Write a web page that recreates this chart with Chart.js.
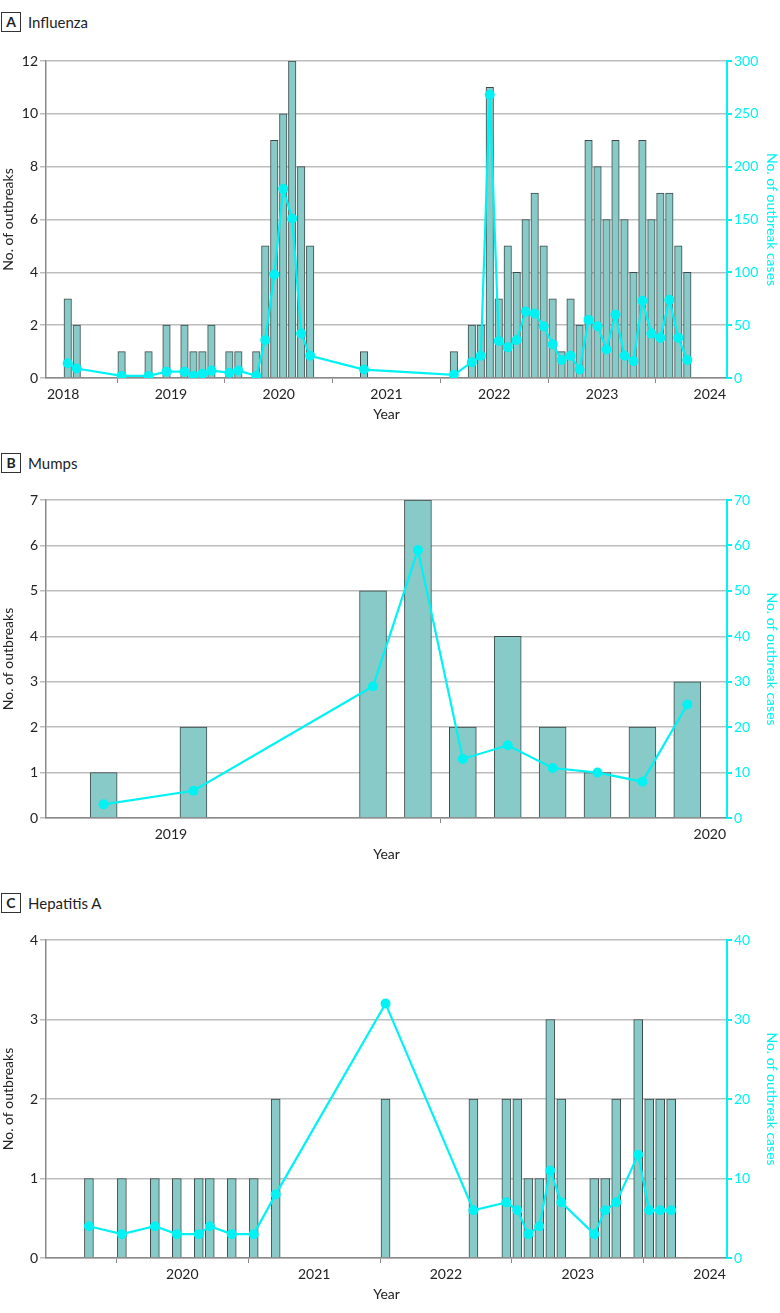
<!DOCTYPE html>
<html lang="en">
<head>
<meta charset="UTF-8">
<title>Outbreaks by month</title>
<script src="https://cdn.jsdelivr.net/npm/chart.js"></script>
<style>
  body {
    margin: 0;
    background: #fff;
    font-family: Lato, "Open Sans", sans-serif;
    color: #222;
  }
  .page {
    position: relative;
    width: 780px;
    height: 1313px;
  }
  .head {
    position: absolute;
    left: 1px;
    height: 20px;
    display: flex;
    align-items: center;
  }
  .tag {
    box-sizing: border-box;
    width: 20px;
    height: 20px;
    border: 1px solid #333;
    font-weight: bold;
    font-size: 14px;
    line-height: 18px;
    text-align: center;
  }
  .name {
    margin-left: 7px;
    font-size: 15px;
  }
  .box {
    position: absolute;
    left: 0;
    width: 780px;
  }
</style>
</head>
<body>
<div class="page">
  <div class="head" style="top:12px"><span class="tag">A</span><span class="name">Influenza</span></div>
  <div class="box" style="top:45px;height:381px"><canvas id="fluChart"></canvas></div>

  <div class="head" style="top:453px"><span class="tag">B</span><span class="name">Mumps</span></div>
  <div class="box" style="top:484px;height:382px"><canvas id="mumpsChart"></canvas></div>

  <div class="head" style="top:893px"><span class="tag">C</span><span class="name">Hepatitis A</span></div>
  <div class="box" style="top:924px;height:382px"><canvas id="hepChart"></canvas></div>
</div>

<script>
  // Influenza, per month
  var fluMonths = ['2018-01','2018-02','2018-07','2018-10','2018-12',
    '2019-02','2019-03','2019-04','2019-05','2019-07','2019-08','2019-10','2019-11','2019-12',
    '2020-01','2020-02','2020-03','2020-04','2020-10',
    '2021-08','2021-10','2021-11','2021-12',
    '2022-01','2022-02','2022-03','2022-04','2022-05','2022-06','2022-07','2022-08','2022-09','2022-10','2022-11','2022-12',
    '2023-01','2023-02','2023-03','2023-04','2023-05','2023-06','2023-07','2023-08','2023-09','2023-10'];
  var fluOutbreaks = [3,2,1,1,2, 2,1,1,2,1,1,1,5,9, 10,12,8,5,1, 1,2,2,11,
    3,5,4,6,7,5,3,1,3,2,9,8, 6,9,6,4,9,6,7,7,5,4];
  var fluCases = [14,9,2,2,6, 6,2,4,7,5,7,2,36,98, 179,151,42,21,8, 3,15,21,268,
    35,29,36,63,61,49,32,17,21,8,55,49, 27,60,21,16,73,42,38,74,38,17];

  // Mumps
  var mumpsMonths = ['2018-11','2019-01','2019-05','2019-06','2019-07','2019-08','2019-09','2019-10','2019-11','2019-12'];
  var mumpsOutbreaks = [1,2,5,7,2,4,2,1,2,3];
  var mumpsCases = [3,6,29,59,13,16,11,10,8,25];

  // Hepatitis A
  var hepMonths = ['2019-04','2019-07','2019-10','2019-12','2020-02','2020-03','2020-05','2020-07','2020-09',
    '2021-07','2022-03','2022-06','2022-07','2022-08','2022-09','2022-10','2022-11',
    '2023-02','2023-03','2023-04','2023-06','2023-07','2023-08','2023-09'];
  var hepOutbreaks = [1,1,1,1,1,1,1,1,2, 2,2,2,2,1,1,3,2, 1,1,2,3,2,2,2];
  var hepCases = [4,3,4,3,3,4,3,3,8, 32,6,7,6,3,4,11,7, 3,6,7,13,6,6,6];

  var CYAN = '#00f2f2';
  var GRID = '#bdbdbd';

  Chart.defaults.font.family = 'Lato, "Open Sans", sans-serif';
  Chart.defaults.font.size = 14;
  Chart.defaults.color = '#222';
  Chart.defaults.animation = false;

  // "2019-05" -> middle of that month as a decimal year
  function monthPos(s) {
    var p = s.split('-');
    return Number(p[0]) + (Number(p[1]) - 0.5) / 12;
  }

  function pairs(months, values) {
    return months.map(function (m, i) { return { x: monthPos(m), y: values[i] }; });
  }

  function makeChart(id, months, outbreaks, cases, opt) {
    var ctx = document.getElementById(id).getContext('2d');
    return new Chart(ctx, {
      type: 'bar',
      data: {
        datasets: [{
          type: 'line',
          order: 0,
          yAxisID: 'y2',
          data: pairs(months, cases),
          borderColor: CYAN,
          backgroundColor: CYAN,
          borderWidth: 2.2,
          pointRadius: 5,
          pointBorderWidth: 0,
          pointBackgroundColor: CYAN,
          tension: 0
        }, {
          type: 'bar',
          order: 1,
          yAxisID: 'y',
          data: pairs(months, outbreaks),
          backgroundColor: '#87cac7',
          borderColor: '#3e4a4a',
          borderWidth: 1,
          barThickness: opt.barW
        }]
      },
      options: {
        responsive: true,
        maintainAspectRatio: false,
        layout: { padding: { top: 16, left: 0, right: 0, bottom: 0 } },
        plugins: { legend: { display: false }, tooltip: { enabled: false } },
        scales: {
          x: {
            type: 'linear',
            offset: false,
            min: opt.xMin,
            max: opt.xMax,
            afterFit: function (s) { s.height = 48; },
            afterBuildTicks: function (s) {
              s.ticks = s.ticks.filter(function (t) { return t.value >= opt.firstYear; });
            },
            border: { color: '#8a8a8a', width: 1.5 },
            grid: { drawOnChartArea: false, drawTicks: true, tickLength: 5, color: '#8a8a8a' },
            ticks: {
              stepSize: 1,
              includeBounds: false,
              padding: 3,
              maxRotation: 0,
              callback: function (v) { return String(v); }
            },
            title: { display: true, text: 'Year', padding: { top: 0, bottom: 3 } }
          },
          y: {
            position: 'left',
            min: 0,
            max: opt.yMax,
            afterFit: function (s) { s.width = 46; },
            border: { color: '#8a8a8a', width: 1.5 },
            grid: { color: GRID, lineWidth: 1.5, tickLength: 6 },
            ticks: { stepSize: opt.yStep, padding: 2 },
            title: { display: true, text: 'No. of outbreaks', padding: { top: 0, bottom: 1 } }
          },
          y2: {
            position: 'right',
            min: 0,
            max: opt.y2Max,
            afterFit: function (s) { s.width = 53; },
            border: { color: CYAN, width: 2 },
            grid: { drawOnChartArea: false, color: CYAN, tickLength: 5, lineWidth: 2 },
            ticks: { stepSize: opt.y2Step, color: CYAN, padding: 2 },
            title: { display: true, text: 'No. of outbreak cases', color: CYAN, padding: { top: 0, bottom: 0 } }
          }
        }
      }
    });
  }

  makeChart('fluChart', fluMonths, fluOutbreaks, fluCases,
    { xMin: 2017.84, xMax: 2024.16, firstYear: 2018, yMax: 12, yStep: 2, y2Max: 300, y2Step: 50, barW: 7.5 });
  makeChart('mumpsChart', mumpsMonths, mumpsOutbreaks, mumpsCases,
    { xMin: 2018.768, xMax: 2020.032, firstYear: 2019, yMax: 7, yStep: 1, y2Max: 70, y2Step: 10, barW: 27 });
  makeChart('hepChart', hepMonths, hepOutbreaks, hepCases,
    { xMin: 2018.966, xMax: 2024.132, firstYear: 2020, yMax: 4, yStep: 1, y2Max: 40, y2Step: 10, barW: 9 });
</script>
</body>
</html>
